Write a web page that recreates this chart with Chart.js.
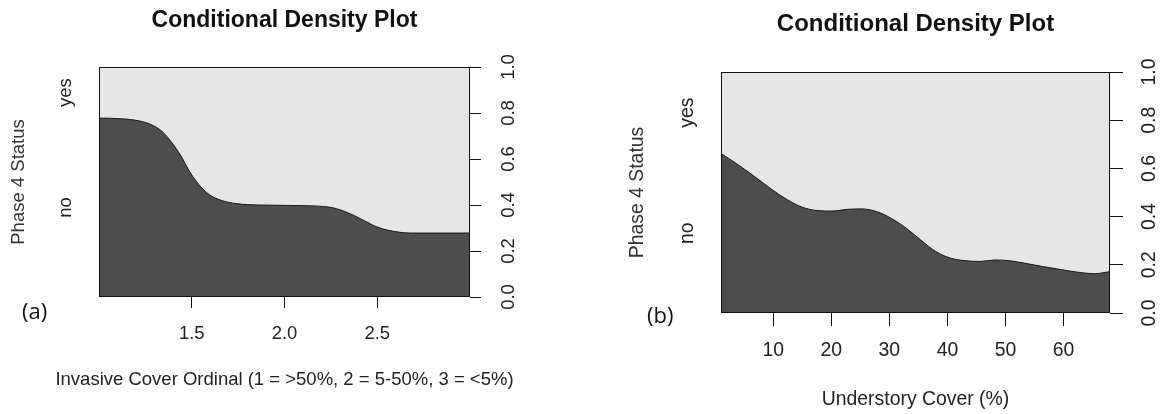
<!DOCTYPE html>
<html>
<head>
<meta charset="utf-8">
<script src="https://cdn.jsdelivr.net/npm/chart.js@4.4.1/dist/chart.umd.min.js"></script>
<style>
  html, body { margin: 0; padding: 0; background: #fff; }
  #wrap { position: relative; width: 1162px; height: 414px; }
  canvas { position: absolute; top: 0; }
  #cdA { left: 0; }
  #cdB { left: 580px; }
</style>
</head>
<body>
<div id="wrap">
  <canvas id="cdA" width="580" height="414"></canvas>
  <canvas id="cdB" width="582" height="414"></canvas>
</div>
<script>
const plotTitle    = 'Conditional Density Plot';
const statusLabels = ['no', 'yes'];
const statusTitle  = 'Phase 4 Status';
const propTicks    = [0, 0.2, 0.4, 0.6, 0.8, 1.0];

// panel (a) - invasive cover
const invasiveX      = [1.0, 1.12, 1.22, 1.28, 1.34, 1.39, 1.44, 1.49, 1.55, 1.60, 1.66, 1.74, 1.86, 2.16, 2.26, 2.34, 2.42, 2.50, 2.56, 2.68, 3.0];
const invasiveNo     = [0.778, 0.775, 0.765, 0.75, 0.72, 0.674, 0.616, 0.543, 0.478, 0.442, 0.42, 0.406, 0.40, 0.396, 0.388, 0.367, 0.336, 0.304, 0.29, 0.278, 0.278];
const invasiveTicks  = [1.5, 2.0, 2.5];
const invasiveRange  = [1, 3];
const invasiveLabel  = 'Invasive Cover Ordinal (1 = >50%, 2 = 5-50%, 3 = <5%)';

// panel (b) - understory cover
const understoryX     = [1, 3.6, 6.8, 9.9, 12.5, 15.0, 17.6, 20.1, 22.7, 25.2, 27.8, 30.3, 32.9, 35.4, 38.0, 40.5, 43.1, 45.6, 48.2, 50.7, 53.2, 56.4, 59.6, 62.8, 65.4, 68];
const understoryNo    = [0.662, 0.621, 0.566, 0.51, 0.469, 0.439, 0.425, 0.423, 0.43, 0.432, 0.421, 0.393, 0.352, 0.303, 0.255, 0.228, 0.217, 0.214, 0.22, 0.217, 0.207, 0.193, 0.18, 0.168, 0.163, 0.172];
const understoryTicks = [10, 20, 30, 40, 50, 60];
const understoryRange = [1, 68];
const understoryLabel = 'Understory Cover (%)';

const FONT = '"Liberation Sans", Arial, sans-serif';
const INK  = '#222';

const cdPlot = (id, xs, ys, xTicks, range, xLabel, tag, g) => {
  const fs = g.fs;
  const frame = {
    id: 'frame',
    beforeDatasetsDraw(chart) {
      const {ctx, chartArea: a} = chart;
      ctx.save();
      ctx.fillStyle = '#e6e6e6';
      ctx.fillRect(a.left, a.top, a.right - a.left, a.bottom - a.top);
      ctx.restore();
    },
    afterDatasetsDraw(chart) {
      const {ctx, chartArea: a} = chart;
      ctx.save();
      ctx.strokeStyle = '#111';
      ctx.lineWidth = 1;
      ctx.strokeRect(Math.round(a.left) + 0.5, Math.round(a.top) + 0.5,
                     Math.round(a.right - a.left) - 1, Math.round(a.bottom - a.top) - 1);
      ctx.restore();
    },
    afterDraw(chart) {
      const {ctx, chartArea: a} = chart;
      const cx = (a.left + a.right) / 2;
      ctx.save();
      ctx.textAlign = 'center';
      ctx.textBaseline = 'middle';
      ctx.fillStyle = '#111';
      ctx.font = `bold ${g.titleFs}px ${FONT}`;
      ctx.fillText(plotTitle, cx, g.titleY);
      // x axis title drawn here so it can run wider than the plot box
      ctx.fillStyle = INK;
      ctx.font = `${fs}px ${FONT}`;
      ctx.fillText(xLabel, cx, g.xTitleY);
      ctx.fillStyle = '#111';
      ctx.font = `${g.tagFs}px "Open Sans", sans-serif`;
      ctx.textAlign = 'left';
      ctx.fillText(tag, g.tagX, g.tagY);
      ctx.restore();
    }
  };

  return new Chart(document.getElementById(id), {
    type: 'line',
    data: {
      datasets: [{
        data: xs.map((x, i) => ({x, y: ys[i]})),
        fill: 'origin',
        backgroundColor: '#4d4d4d',
        borderColor: '#1a1a1a',
        borderWidth: 1,
        pointRadius: 0,
        cubicInterpolationMode: 'monotone',
        yAxisID: 'y'
      }]
    },
    options: {
      responsive: false,
      animation: false,
      devicePixelRatio: 1,
      layout: {padding: {top: g.top, left: 0, right: 0, bottom: 0}},
      plugins: {legend: {display: false}, tooltip: {enabled: false}},
      scales: {
        x: {
          type: 'linear', position: 'bottom',
          min: range[0], max: range[1],
          afterBuildTicks: s => { s.ticks = xTicks.map(v => ({value: v})); },
          afterFit: s => { s.height = g.xH; },
          grid: {drawOnChartArea: false, drawTicks: true, tickLength: g.tick, tickColor: '#111', lineWidth: 1},
          border: {display: false},
          ticks: {
            autoSkip: false, maxRotation: 0, padding: g.xPad, color: INK,
            font: {family: FONT, size: fs},
            callback: v => (xTicks.some(t => t % 1) ? v.toFixed(1) : String(v))
          }
        },
        status: {
          type: 'linear', position: 'left',
          min: 0, max: 1,
          afterBuildTicks: s => { s.ticks = [{value: ys[0] / 2}, {value: (1 + ys[0]) / 2}]; },
          afterFit: s => { s.width = g.leftW; },
          grid: {display: false, drawTicks: false},
          border: {display: false},
          ticks: {
            autoSkip: false, minRotation: 90, crossAlign: 'center', padding: g.statusPad, color: INK,
            font: {family: FONT, size: fs},
            callback: (v, i) => statusLabels[i]
          },
          title: {display: true, text: statusTitle, color: '#333', font: {family: FONT, size: fs}, padding: {top: g.statusTitlePad, bottom: 0}}
        },
        y: {
          type: 'linear', position: 'right',
          min: 0, max: 1,
          afterBuildTicks: s => { s.ticks = propTicks.map(v => ({value: v})); },
          afterFit: s => { s.width = g.rightW; },
          grid: {drawOnChartArea: false, drawTicks: true, tickLength: g.tick, tickColor: '#111', lineWidth: 1},
          border: {display: false},
          ticks: {
            autoSkip: false, minRotation: 90, crossAlign: 'center', padding: g.yPad, color: INK,
            font: {family: FONT, size: fs},
            callback: v => v.toFixed(1)
          }
        }
      }
    },
    plugins: [frame]
  });
};

cdPlot('cdA', invasiveX, invasiveNo, invasiveTicks, invasiveRange, invasiveLabel, '(a)', {
  fs: 18.5, titleFs: 23, titleY: 21, xTitleY: 380, tagFs: 22, tagX: 22, tagY: 313,
  top: 67, leftW: 99, rightW: 110, xH: 117, tick: 11,
  xPad: 15, statusPad: 19, statusTitlePad: 8, yPad: 15
});

cdPlot('cdB', understoryX, understoryNo, understoryTicks, understoryRange, understoryLabel, '(b)', {
  fs: 19.4, titleFs: 24, titleY: 24, xTitleY: 400, tagFs: 22, tagX: 67, tagY: 317,
  top: 72, leftW: 141, rightW: 52, xH: 101, tick: 13,
  xPad: 13, statusPad: 18, statusTitlePad: 46, yPad: 13
});
</script>
</body>
</html>
